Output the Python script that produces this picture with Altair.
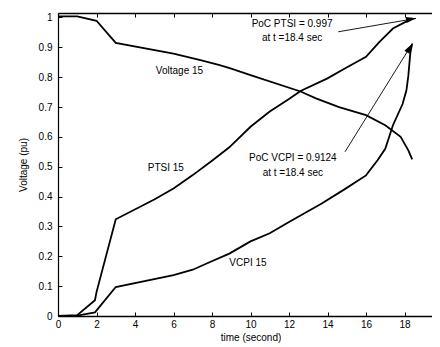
import math
import altair as alt
import pandas as pd

# ---- data ----
volt_t = [0, 1, 2, 3, 6, 7.4, 8.4, 9, 10, 12.6, 13.4, 14.6, 16, 17, 17.8, 18.2, 18.4]
volt_v = [1.004, 1.004, 0.989, 0.915, 0.879, 0.857, 0.840, 0.829, 0.807, 0.752, 0.729,
          0.700, 0.673, 0.639, 0.600, 0.555, 0.525]

ptsi_t = [0, 1, 1.92, 2, 3, 5, 6, 7, 8, 8.9, 10, 11, 12, 12.6, 14, 14.9, 16, 16.7, 17.4, 18.4]
ptsi_v = [0, 0.003, 0.053, 0.08, 0.324, 0.39, 0.427, 0.472, 0.52, 0.565, 0.634, 0.685,
          0.727, 0.754, 0.796, 0.829, 0.868, 0.918, 0.963, 0.997]

vcpi_t = [0, 1, 1.92, 3, 6, 7, 7.9, 8.9, 10, 11, 12, 13.7, 14.9, 16, 16.6, 17, 17.4, 17.9,
          18.1, 18.2, 18.3, 18.4]
vcpi_v = [0, 0.001, 0.012, 0.097, 0.137, 0.155, 0.181, 0.209, 0.25, 0.277, 0.315, 0.377, 0.425,
          0.471, 0.522, 0.56, 0.639, 0.71, 0.756, 0.805, 0.88, 0.9124]

arrow_names = ["PTSI", "VCPI"]
arrow_t0 = [14.56, 14.91]
arrow_v0 = [0.952, 0.55]
arrow_t1 = [18.6, 18.4]
arrow_v1 = [0.997, 0.912]

label_text = ["Voltage 15", "PTSI 15", "VCPI 15", "PoC PTSI = 0.997", "at t =18.4 sec",
              "PoC VCPI = 0.9124", "at t =18.4 sec"]
label_t = [6.31, 5.6, 9.87, 12.16, 12.16, 12.2, 12.2]
label_v = [0.82, 0.495, 0.178, 0.977, 0.932, 0.529, 0.48]

x_ticks = list(range(0, 21, 2))
y_ticks = [round(i * 0.1, 1) for i in range(11)]

# ---- layout ----
XR = 385          # full x range of the axes box (right part runs past the window)
W, H = 374, 303   # visible view size
XMAX, YMAX = 20, 1.015
FONT = "Liberation Sans"

curves = pd.concat([
    pd.DataFrame({"t": volt_t, "v": volt_v, "s": "Voltage 15"}),
    pd.DataFrame({"t": ptsi_t, "v": ptsi_v, "s": "PTSI 15"}),
    pd.DataFrame({"t": vcpi_t, "v": vcpi_v, "s": "VCPI 15"}),
])

arrow_rows = []
head_rows = []
for n, t0, v0, t1, v1 in zip(arrow_names, arrow_t0, arrow_v0, arrow_t1, arrow_v1):
    arrow_rows.append({"t": t0, "v": v0, "a": n})
    arrow_rows.append({"t": t1, "v": v1, "a": n})
    dx = (t1 - t0) * XR / XMAX
    dy = -(v1 - v0) * H / YMAX
    ang = math.degrees(math.atan2(dy, dx)) % 360
    head_rows.append({"t": t1, "v": v1, "ang": ang})
arrows = pd.DataFrame(arrow_rows)
heads = pd.DataFrame(head_rows)
labels = pd.DataFrame({"t": label_t, "v": label_v, "txt": label_text})

xs = alt.Scale(domain=[0, XMAX], range=[0, XR], nice=False, zero=False)
ys = alt.Scale(domain=[0, YMAX], nice=False, zero=False)

x_main = alt.Axis(values=x_ticks, orient="bottom", domain=False, grid=False, offset=-4,
                  tickSize=4, tickColor="black", labelPadding=3, labelColor="black",
                  labelFontSize=10, title="time (second)", titleFontSize=10,
                  titleFontWeight="normal", titleColor="black", titlePadding=3,
                  titleX=192.5, labelFlush=False)
y_main = alt.Axis(values=y_ticks, orient="left", domain=False, grid=False, offset=-4,
                  tickSize=4, tickColor="black", labelPadding=6, labelColor="black",
                  labelFontSize=10, format="~g", title="Voltage (pu)", titleFontSize=10,
                  titleFontWeight="normal", titleColor="black", titlePadding=10,
                  labelFlush=False)
x_top = alt.Axis(values=x_ticks, orient="top", domain=False, grid=False, offset=-4,
                 tickSize=4, tickColor="black", labels=False, title=None)
y_right = alt.Axis(values=y_ticks, orient="right", domain=False, grid=False,
                   offset=XR - W - 4, tickSize=4, tickColor="black", labels=False, title=None)
x_dom_b = alt.Axis(orient="bottom", domain=True, domainColor="black", domainWidth=1.6,
                   ticks=False, labels=False, grid=False, title=None)
y_dom_l = alt.Axis(orient="left", domain=True, domainColor="black", domainWidth=1.2,
                   ticks=False, labels=False, grid=False, title=None)
x_dom_t = alt.Axis(orient="top", domain=True, domainColor="black", domainWidth=1.4,
                   ticks=False, labels=False, grid=False, title=None)

lines = alt.Chart(curves).mark_line(color="black", strokeWidth=1.8).encode(
    x=alt.X("t:Q", scale=xs, axis=x_main),
    y=alt.Y("v:Q", scale=ys, axis=y_main),
    detail="s:N",
    order=alt.Order("t:Q"),
)

arrow_lines = alt.Chart(arrows).mark_line(color="black", strokeWidth=0.9).encode(
    x=alt.X("t:Q", scale=xs, axis=x_top),
    y=alt.Y("v:Q", scale=ys, axis=y_right),
    detail="a:N",
)

arrow_heads = alt.Chart(heads).mark_point(
    shape="M 0 0 L -2 -0.6 L -2 0.6 Z", filled=True, color="black", opacity=1, size=100
).encode(
    x=alt.X("t:Q", scale=xs, axis=x_dom_b),
    y=alt.Y("v:Q", scale=ys, axis=y_dom_l),
    angle=alt.Angle("ang:Q", scale=None),
)

texts = alt.Chart(labels).mark_text(font=FONT, fontSize=10, color="black",
                                    align="center", baseline="middle").encode(
    x=alt.X("t:Q", scale=xs, axis=x_dom_t),
    y=alt.Y("v:Q", scale=ys, axis=None),
    text="txt:N",
)

chart = alt.layer(lines, arrow_lines, arrow_heads, texts).resolve_axis(
    x="independent", y="independent"
).properties(
    width=W, height=H,
    autosize=alt.AutoSizeParams(type="none"),
    padding={"left": 50, "top": 5, "right": 0, "bottom": 31},
).configure(font=FONT).configure_view(stroke="transparent").configure_axis(
    labelFont=FONT, titleFont=FONT
)

chart.save("out.html", embed_options={"renderer": "svg", "actions": False})
